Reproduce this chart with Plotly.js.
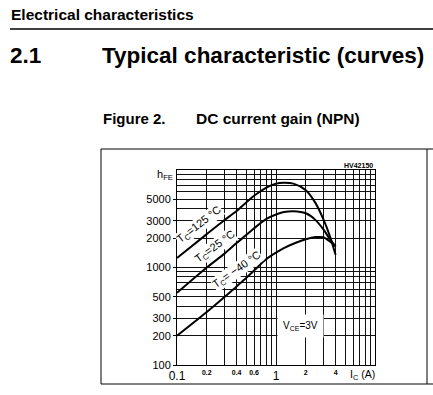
<!DOCTYPE html>
<html><head><meta charset="utf-8">
<script src="https://cdn.plot.ly/plotly-3.0.1.min.js"></script>
<style>html,body{margin:0;padding:0;background:#fff;overflow:hidden}#chart{width:433px;height:395px}</style>
</head><body><div id="chart"></div>
<script>
// ---- data ----
const icA = [0.1, 0.2, 0.3, 0.4, 0.5, 0.6, 0.8, 1, 1.2, 1.5, 2, 2.5, 3, 3.5, 4];
const hfeT125 = [1250, 2200, 3050, 3800, 4650, 5450, 6600, 7250, 7400, 7250, 6200, 4600, 3150, 2100, 1350];
const hfeT25  = [550, 1000, 1380, 1780, 2150, 2520, 3150, 3500, 3700, 3780, 3600, 3080, 2470, 1960, 1650];
const hfeTm40 = [200, 350, 495, 640, 780, 930, 1220, 1420, 1580, 1750, 1950, 2050, 2040, 1850, 1650];
const curveLabels = ['T<sub>C</sub>=125 °C', 'T<sub>C</sub>=25 °C', 'T<sub>C</sub>= −40 °C'];

const xTickBigVals = [0.1, 1];
const xTickBigText = ['0.1', '1'];
const xTickSmallVals = [0.2, 0.4, 0.6, 2, 4];
const xTickSmallText = ['0.2', '0.4', '0.6', '2', '4'];
const yTickVals = [100, 200, 300, 500, 1000, 2000, 3000, 5000];
const yTickText = ['100', '200', '300', '500', '1000', '2000', '3000', '5000'];
const xGridVals = [0.1,0.2,0.3,0.4,0.5,0.6,0.7,0.8,0.9,1,2,3,4,5,6,7,8,9,10];
const yGridVals = [100,200,300,400,500,600,700,800,900,1000,2000,3000,4000,5000,6000,7000,8000,9000,10000];

// ---- page geometry (pixels) ----
const W = 433, H = 395;
const L = 177, R = 375, T = 170, B = 365;
const px = x => (x - L) / (R - L);
const py = y => (B - y) / (B - T);
const FONT = 'Liberation Sans, Arial, Helvetica, sans-serif';

const lineStyle = {color: '#000', width: 2, shape: 'spline', smoothing: 0.8};
const traces = [
  {x: icA, y: hfeT125, mode: 'lines', line: lineStyle, hoverinfo: 'skip'},
  {x: icA, y: hfeT25, mode: 'lines', line: lineStyle, hoverinfo: 'skip'},
  // drawn on the overlaid x axis (same log range) that carries the small tick labels
  {x: icA, y: hfeTm40, mode: 'lines', line: lineStyle, hoverinfo: 'skip', xaxis: 'x2', yaxis: 'y'}
];

function txt(text, x, y, size, opts) {
  return Object.assign({
    text: text, xref: 'paper', yref: 'paper', x: px(x), y: py(y),
    xanchor: 'center', yanchor: 'middle', showarrow: false,
    font: {family: FONT, size: size, color: '#000'}
  }, opts || {});
}

const annotations = [
  txt('<b>Electrical characteristics</b>', 9, 14, 15.5, {xanchor: 'left'}),
  txt('<b>2.1</b>', 8, 55, 22.5, {xanchor: 'left'}),
  txt('<b>Typical characteristic (curves)</b>', 100, 55, 22.5, {xanchor: 'left'}),
  txt('<b>Figure 2.</b>', 101, 118, 15, {xanchor: 'left'}),
  txt('<b>DC current gain (NPN)</b>', 194, 118, 15.5, {xanchor: 'left'}),
  txt('<b>HV42150</b>', 375, 165, 7, {xanchor: 'right'}),
  txt('h<sub>FE</sub>', 165, 175, 11),
  txt('I<sub>C</sub> (A)', 362, 375, 10.5),
  txt('V<sub>CE</sub>=3V', 300, 326, 10, {bgcolor: '#fff', borderpad: 5}),
  txt(curveLabels[0], 199, 225, 11, {textangle: -38, bgcolor: '#fff', borderpad: 0}),
  txt(curveLabels[1], 215, 247, 11, {textangle: -36, bgcolor: '#fff', borderpad: 0}),
  txt(curveLabels[2], 237, 270, 11, {textangle: -35, bgcolor: '#fff', borderpad: 0})
];

const ln = {color: '#000', width: 1};
const shapes = [
  {type: 'line', xref: 'paper', yref: 'paper', x0: px(10), x1: px(433), y0: py(29), y1: py(29), line: {color: '#000', width: 1.3}},
  {type: 'line', xref: 'paper', yref: 'paper', x0: px(101), x1: px(433), y0: py(149), y1: py(149), line: ln},
  {type: 'line', xref: 'paper', yref: 'paper', x0: px(101), x1: px(433), y0: py(384), y1: py(384), line: ln},
  {type: 'line', xref: 'paper', yref: 'paper', x0: px(101), x1: px(101), y0: py(149), y1: py(384), line: ln},
  {type: 'line', xref: 'paper', yref: 'paper', x0: px(427), x1: px(427), y0: py(149), y1: py(384), line: ln}
];

const layout = {
  width: W, height: H,
  margin: {l: L, r: W - R, t: T, b: H - B, pad: 0},
  paper_bgcolor: '#fff', plot_bgcolor: '#fff',
  showlegend: false,
  font: {family: FONT, color: '#000'},
  xaxis: {
    type: 'log', range: [-1, 1], tickmode: 'array', tickvals: xTickBigVals, ticktext: xTickBigText,
    tickfont: {family: FONT, size: 12, color: '#000'}, ticks: '', showgrid: false,
    showline: true, mirror: true, linecolor: '#000', linewidth: 1, zeroline: false,
    minor: {tickmode: 'array', tickvals: xGridVals, showgrid: true, gridcolor: '#111', gridwidth: 1, ticks: ''}
  },
  xaxis2: {
    type: 'log', range: [-1, 1], overlaying: 'x', anchor: 'y', side: 'bottom',
    tickmode: 'array', tickvals: xTickSmallVals, ticktext: xTickSmallText,
    tickfont: {family: FONT, size: 7, color: '#000', weight: 'bold'}, ticks: '',
    showgrid: false, showline: false, zeroline: false, ticklabelstandoff: 2
  },
  yaxis: {
    type: 'log', range: [2, 4], tickmode: 'array', tickvals: yTickVals, ticktext: yTickText,
    tickfont: {family: FONT, size: 11, color: '#000'}, ticks: 'outside', ticklen: 3, tickcolor: '#000',
    showgrid: false, showline: true, mirror: true, linecolor: '#000', linewidth: 1, zeroline: false,
    minor: {tickmode: 'array', tickvals: yGridVals, showgrid: true, gridcolor: '#111', gridwidth: 1, ticks: ''}
  },
  annotations: annotations,
  shapes: shapes
};

Plotly.newPlot('chart', traces, layout, {displayModeBar: false, staticPlot: true});
</script></body></html>
